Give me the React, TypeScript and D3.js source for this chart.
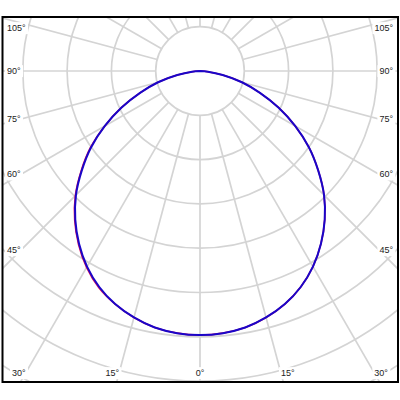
import React, { useEffect, useRef } from 'react';
import * as d3 from 'd3';

// gamma angles (deg from nadir) and luminous intensity (cd/klm)
const gammaAngles = [0, 5, 10, 15, 20, 25, 30, 35, 40, 45, 50, 55, 60, 65, 70, 75, 80, 85, 90];
const intensityC90 = [298, 297, 294, 288, 280, 269, 255, 238, 219, 198, 174, 150, 124, 98, 72, 49, 26, 9, 0];
const intensityC0Left = [298, 297, 294, 288, 280, 270, 256, 239, 220, 199, 175, 151, 124, 98, 72, 49, 26, 9, 0];
const intensityC0Right = [298, 297, 294, 288, 280, 269, 255, 238, 219, 198, 174, 150, 124, 98, 72, 49, 26, 9, 0];

const ringStep = 50;
const ringCount = 8;
const leftLabelAngles = [105, 90, 75, 60, 45];
const bottomLabelAngles = [-30, -15, 0, 15, 30];
const rightLabelAngles = [45, 60, 75, 90, 105];

const App: React.FC = () => {
  const svgRef = useRef<SVGSVGElement>(null);

  useEffect(() => {
    if (!svgRef.current) return;
    const svg = d3.select(svgRef.current);
    svg.selectAll('*').remove();

    const frame = { x0: 2.5, y0: 17, x1: 398, y1: 382 };
    const cx = 200;
    const cy = 71;
    const gridColor = '#d4d4d4';
    const rScale = d3.scaleLinear().domain([0, ringStep]).range([0, 44.3]);
    const innerR = rScale(ringStep);

    svg.append('defs')
      .append('clipPath')
      .attr('id', 'frame-clip')
      .append('rect')
      .attr('x', frame.x0)
      .attr('y', frame.y0)
      .attr('width', frame.x1 - frame.x0)
      .attr('height', frame.y1 - frame.y0);

    const grid = svg.append('g').attr('clip-path', 'url(#frame-clip)');

    d3.range(1, ringCount + 1).forEach(k => {
      grid.append('circle')
        .attr('cx', cx)
        .attr('cy', cy)
        .attr('r', rScale(k * ringStep))
        .attr('fill', k === 1 ? '#fff' : 'none')
        .attr('stroke', gridColor)
        .attr('stroke-width', 1.7);
    });

    d3.range(0, 360, 15).forEach(a => {
      const rad = (a * Math.PI) / 180;
      grid.append('line')
        .attr('x1', cx + innerR * Math.sin(rad))
        .attr('y1', cy + innerR * Math.cos(rad))
        .attr('x2', cx + 700 * Math.sin(rad))
        .attr('y2', cy + 700 * Math.cos(rad))
        .attr('stroke', gridColor)
        .attr('stroke-width', 1.7);
    });

    const buildPoints = (left: number[], right: number[]) => {
      const pts: Array<[number, number]> = [];
      for (let i = gammaAngles.length - 1; i >= 0; i--) pts.push([-gammaAngles[i], left[i]]);
      for (let i = 1; i < gammaAngles.length; i++) pts.push([gammaAngles[i], right[i]]);
      return pts;
    };

    const radial = d3.lineRadial<[number, number]>()
      .angle(d => Math.PI - (d[0] * Math.PI) / 180)
      .radius(d => rScale(d[1]))
      .curve(d3.curveCatmullRom.alpha(0.5));

    const curves = svg.append('g').attr('transform', `translate(${cx},${cy})`);

    curves.append('path')
      .attr('d', radial(buildPoints(intensityC0Left, intensityC0Right)))
      .attr('fill', 'none')
      .attr('stroke', '#e0105a')
      .attr('stroke-width', 1.6);

    curves.append('path')
      .attr('d', radial(buildPoints(intensityC90, intensityC90)))
      .attr('fill', 'none')
      .attr('stroke', '#1a06c8')
      .attr('stroke-width', 2);

    const labels = svg.append('g')
      .attr('font-family', "'Liberation Sans', Arial, sans-serif")
      .attr('font-size', '9px')
      .attr('fill', '#222');

    const addLabel = (x: number, y: number, text: string, anchor: string) => {
      const g = labels.append('g');
      const t = g.append('text')
        .attr('x', x)
        .attr('y', y)
        .attr('dy', '0.35em')
        .attr('text-anchor', anchor)
        .text(text);
      const box = (t.node() as SVGTextElement).getBBox();
      g.insert('rect', 'text')
        .attr('x', box.x - 2)
        .attr('y', box.y - 1)
        .attr('width', box.width + 4)
        .attr('height', box.height + 2)
        .attr('fill', '#fff');
    };

    leftLabelAngles.forEach(a => {
      const rad = (a * Math.PI) / 180;
      const s = (cx - 21) / Math.sin(rad);
      const y = Math.max(28, cy + s * Math.cos(rad));
      addLabel(7, y, `${a}°`, 'start');
    });

    rightLabelAngles.forEach(a => {
      const rad = (a * Math.PI) / 180;
      const s = (379 - cx) / Math.sin(rad);
      const y = Math.max(28, cy + s * Math.cos(rad));
      addLabel(393, y, `${a}°`, 'end');
    });

    bottomLabelAngles.forEach(a => {
      const rad = (a * Math.PI) / 180;
      const s = (373 - cy) / Math.cos(rad);
      const x = cx + s * Math.sin(rad);
      addLabel(x, 373, `${Math.abs(a)}°`, a < 0 ? 'end' : a > 0 ? 'start' : 'middle');
    });

    svg.append('rect')
      .attr('x', frame.x0)
      .attr('y', frame.y0)
      .attr('width', frame.x1 - frame.x0)
      .attr('height', frame.y1 - frame.y0)
      .attr('fill', 'none')
      .attr('stroke', '#000')
      .attr('stroke-width', 2);
  }, []);

  return (
    <svg
      ref={svgRef}
      width={400}
      height={400}
      style={{ position: 'absolute', left: 0, top: 0, display: 'block', background: '#fff' }}
    />
  );
};

export default App;
